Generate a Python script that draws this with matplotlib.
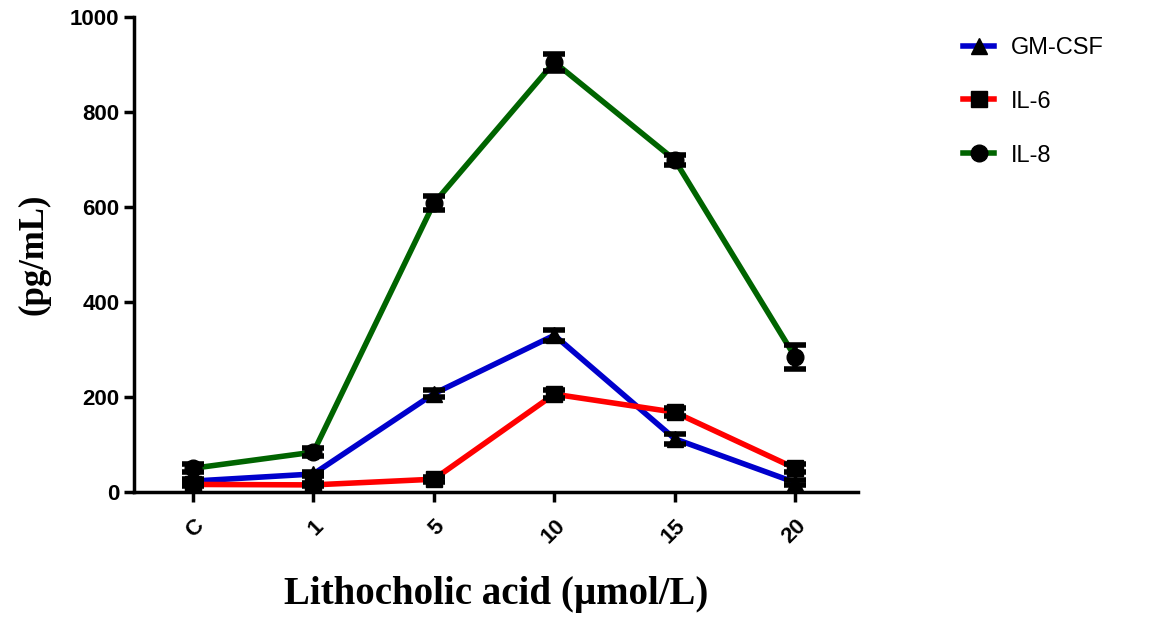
import matplotlib.pyplot as plt
import numpy as np

# Cytokine release vs lithocholic acid dose
doses = ["C", "1", "5", "10", "15", "20"]

gmcsf = [23, 38, 207, 330, 112, 20]
gmcsf_err = [5, 5, 8, 12, 10, 5]

il6 = [16, 15, 27, 206, 168, 50]
il6_err = [3, 3, 5, 8, 8, 8]

il8 = [50, 84, 608, 905, 699, 284]
il8_err = [8, 8, 15, 18, 10, 25]

series = [
    ("GM-CSF", gmcsf, gmcsf_err, "#0000CC", "^"),
    ("IL-6", il6, il6_err, "#FF0000", "s"),
    ("IL-8", il8, il8_err, "#006400", "o"),
]

fig = plt.figure(figsize=(11.49, 6.24), dpi=100)
ax = fig.add_axes([0.1166, 0.2115, 0.63, 0.7613])

x = np.arange(len(doses))
handles = []
for name, vals, err, col, mk in series:
    ax.errorbar(x, vals, yerr=err, fmt="none", ecolor="black",
                elinewidth=4, capsize=8, capthick=4, zorder=4)
    h, = ax.plot(x, vals, color=col, lw=4, marker=mk, markersize=12,
                 markerfacecolor="black", markeredgecolor="black",
                 label=name, zorder=3)
    handles.append(h)

ax.set_xlim(-0.49, 5.52)
ax.set_ylim(0, 1000)
ax.set_yticks(range(0, 1001, 200))
ax.set_xticks(x)
ax.set_xticklabels(doses, rotation=45, ha="right", va="top",
                   rotation_mode="anchor")

for s in ["top", "right"]:
    ax.spines[s].set_visible(False)
for s in ["left", "bottom"]:
    ax.spines[s].set_linewidth(2.5)
ax.tick_params(axis="both", width=2.5, length=7, direction="out",
               labelsize=16)
ax.tick_params(axis="x", pad=10)
for lab in ax.get_xticklabels() + ax.get_yticklabels():
    lab.set_fontweight("bold")
    lab.set_family("Liberation Sans")

ax.set_ylabel("(pg/mL)", family="Liberation Serif", fontweight="bold",
              fontsize=25, labelpad=14)
ax.set_xlabel("Lithocholic acid (µmol/L)", family="Liberation Serif",
              fontweight="bold", fontsize=28, labelpad=20)

fig.legend(handles=handles, loc="upper left",
           bbox_to_anchor=(0.82, 0.975), frameon=False,
           prop={"family": "Liberation Sans", "size": 17},
           labelspacing=1.35, handlelength=1.3, handletextpad=0.7,
           markerscale=1.0)

fig.savefig("out.png", dpi=100)
